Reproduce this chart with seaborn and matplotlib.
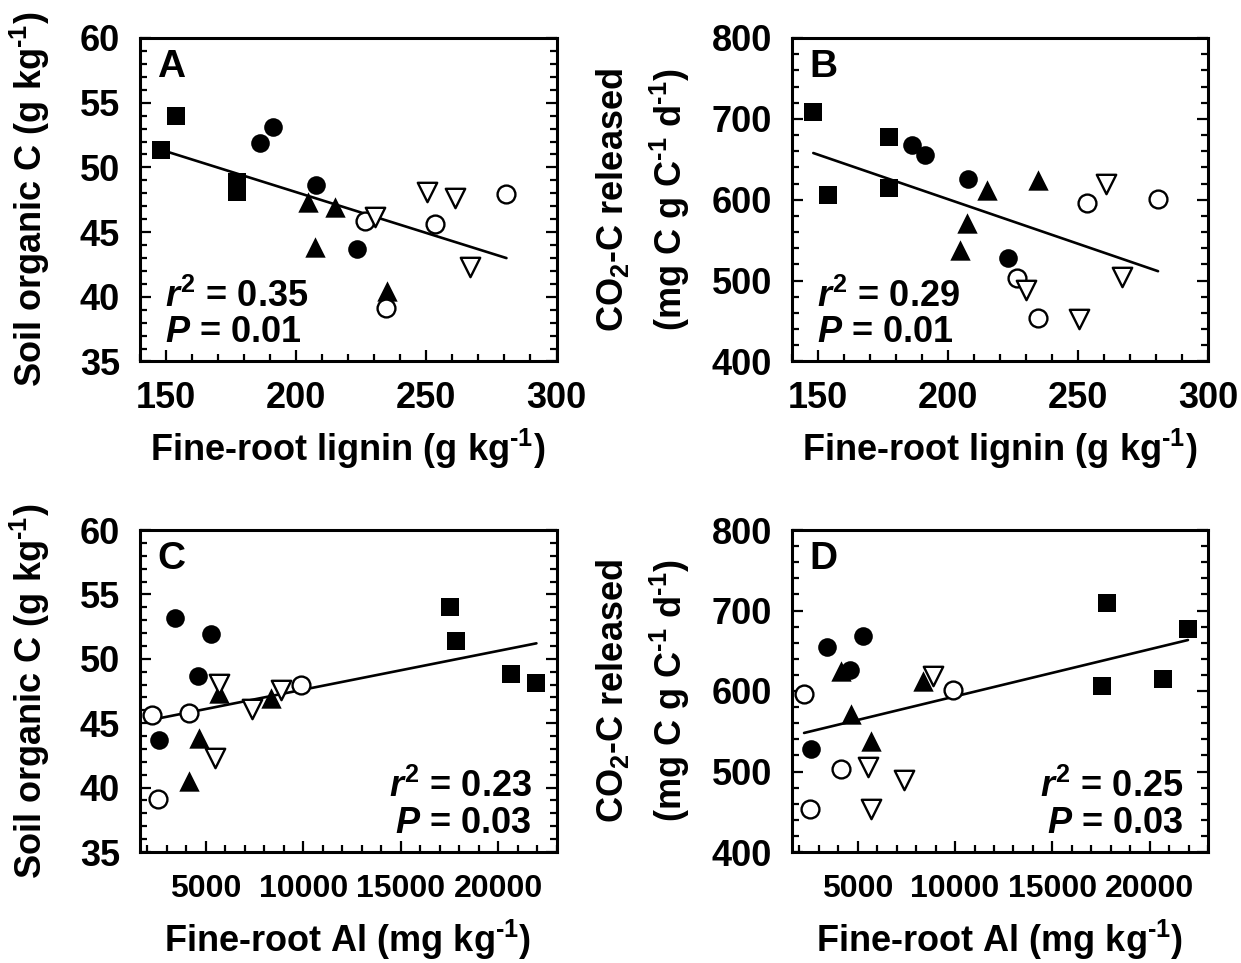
import numpy as np
import pandas as pd
import matplotlib
matplotlib.use("Agg")
import matplotlib.pyplot as plt
import seaborn as sns
from matplotlib.ticker import MultipleLocator

# ---- data ----
groups = ["sq"] * 4 + ["fc"] * 4 + ["ft"] * 4 + ["oc"] * 4 + ["ot"] * 4
lignin = [148.3, 154.1, 177.5, 177.5,
          191.1, 186.2, 207.6, 223.3,
          234.8, 215.1, 207.3, 204.8,
          253.5, 280.8, 226.5, 234.5,
          260.9, 266.9, 230.2, 250.3]
al = [17820, 17560, 21970, 20670,
      3410, 5290, 4605, 2610,
      4140, 8370, 4650, 5690,
      2236, 9890, 4150, 2535,
      8880, 5500, 7385, 5690]
soc = [51.35, 54.0, 48.12, 48.85,
       53.15, 51.9, 48.63, 43.73,
       40.48, 46.97, 43.87, 47.35,
       45.6, 47.93, 45.83, 39.1,
       47.6, 42.3, 46.13, 48.08]
co2 = [709, 606, 677, 615,
       655, 668, 626, 528,
       625, 612, 571, 538,
       596, 601, 503, 454,
       619, 505, 489, 453]

panel_letters = ["A", "B", "C", "D"]
stats_text = [("0.35", "0.01"), ("0.29", "0.01"), ("0.23", "0.03"), ("0.25", "0.03")]
lignin_ticks = [150, 200, 250, 300]
al_ticks = [5000, 10000, 15000, 20000]
soc_ticks = [35, 40, 45, 50, 55, 60]
co2_ticks = [400, 500, 600, 700, 800]

df = pd.DataFrame({"group": groups, "lignin": lignin, "al": al, "soc": soc, "co2": co2})

styles = {
    "sq": dict(marker="s", fc="black", s=160),
    "fc": dict(marker="o", fc="black", s=180),
    "ft": dict(marker="^", fc="black", s=215),
    "oc": dict(marker="o", fc="white", s=165),
    "ot": dict(marker="v", fc="white", s=195),
}

sns.set_theme(style="ticks")
plt.rcParams["font.family"] = ["Liberation Sans", "DejaVu Sans"]
plt.rcParams["font.weight"] = "bold"
plt.rcParams["axes.labelweight"] = "bold"
plt.rcParams["text.color"] = "black"
plt.rcParams["axes.labelcolor"] = "black"
plt.rcParams["xtick.color"] = "black"
plt.rcParams["ytick.color"] = "black"
plt.rcParams["axes.edgecolor"] = "black"
plt.rcParams["mathtext.fontset"] = "custom"
plt.rcParams["mathtext.rm"] = "Liberation Sans:bold"
plt.rcParams["mathtext.bf"] = "Liberation Sans:bold"
plt.rcParams["mathtext.it"] = "Liberation Sans:bold:italic"
plt.rcParams["mathtext.default"] = "rm"

FS = 26

fig = plt.figure(figsize=(12.41, 9.63), dpi=100)
W, H = 1241, 963
def pos(l, t, r, b):
    return [l / W, 1 - b / H, (r - l) / W, (b - t) / H]

ax_pos = [pos(139.5, 38, 556.5, 361.5), pos(791.7, 38, 1208, 361.5),
          pos(139.5, 530, 556.5, 852), pos(791.7, 530, 1208, 852)]

cfg = [
    ("lignin", "soc", (140, 300), (35, 60), lignin_ticks, 10, soc_ticks, 1, "left"),
    ("lignin", "co2", (140, 300), (400, 800), lignin_ticks, 10, co2_ticks, 20, "left"),
    ("al", "soc", (1600, 23000), (35, 60), al_ticks, 1000, soc_ticks, 1, "right"),
    ("al", "co2", (1600, 23000), (400, 800), al_ticks, 1000, co2_ticks, 20, "right"),
]

sup = r"$^{\text{-1}}$"
xlabels = {"lignin": "Fine-root lignin (g kg" + sup + ")",
           "al": "Fine-root Al (mg kg" + sup + ")"}
ylabels = {"soc": "Soil organic C (g kg" + sup + ")",
           "co2": "CO$_2$-C released\n(mg C g C" + sup + " d" + sup + ")"}
ylabelpad = {"soc": 20, "co2": 14}
xticksize = {"lignin": FS, "al": 23}

for i, (xc, yc, xl, yl, xt, xmin, yt, ymin, side) in enumerate(cfg):
    ax = fig.add_axes(ax_pos[i])
    sns.regplot(data=df, x=xc, y=yc, scatter=False, ci=None, ax=ax, color="black",
                line_kws=dict(lw=1.9, zorder=2))
    for g, st in styles.items():
        sub = df[df["group"] == g]
        sns.scatterplot(data=sub, x=xc, y=yc, ax=ax, marker=st["marker"], color=st["fc"],
                        edgecolor="black", linewidth=1.7 if st["fc"] == "white" else 0,
                        s=st["s"], zorder=3, legend=False)
    ax.set_xlim(*xl)
    ax.set_ylim(*yl)
    ax.set_xticks(xt)
    ax.set_yticks(yt)
    ax.xaxis.set_minor_locator(MultipleLocator(xmin))
    ax.yaxis.set_minor_locator(MultipleLocator(ymin))
    ax.tick_params(which="both", direction="in", right=True, top=False, width=1.6,
                   color="black")
    ax.tick_params(which="major", length=8, labelsize=FS, pad=14)
    ax.tick_params(axis="x", which="major", labelsize=xticksize[xc],
                   pad=14 if xc == "lignin" else 16)
    ax.tick_params(which="minor", length=5)
    for lab in ax.get_xticklabels() + ax.get_yticklabels():
        lab.set_fontweight("bold")
    for sp in ax.spines.values():
        sp.set_linewidth(2.2)
        sp.set_color("black")
    ax.set_xlabel(xlabels[xc], fontsize=FS, fontweight="bold",
                  labelpad=8 if xc == "lignin" else 10)
    ax.set_ylabel(ylabels[yc], fontsize=FS, fontweight="bold", labelpad=ylabelpad[yc],
                  linespacing=1.5)
    ax.text(0.043, 0.965, panel_letters[i], transform=ax.transAxes, ha="left", va="top",
            fontsize=FS + 2, fontweight="bold")
    r2, p = stats_text[i]
    if side == "left":
        tx, ha = 0.06, "left"
    else:
        tx, ha = 0.94, "right"
    ax.text(tx, 0.17, r"$\mathit{r}^2$ = " + r2, transform=ax.transAxes, ha=ha,
            va="baseline", fontsize=FS, fontweight="bold")
    ax.text(tx, 0.06, r"$\mathit{P}$ = " + p, transform=ax.transAxes, ha=ha,
            va="baseline", fontsize=FS, fontweight="bold")

fig.savefig("out.png", dpi=100)
